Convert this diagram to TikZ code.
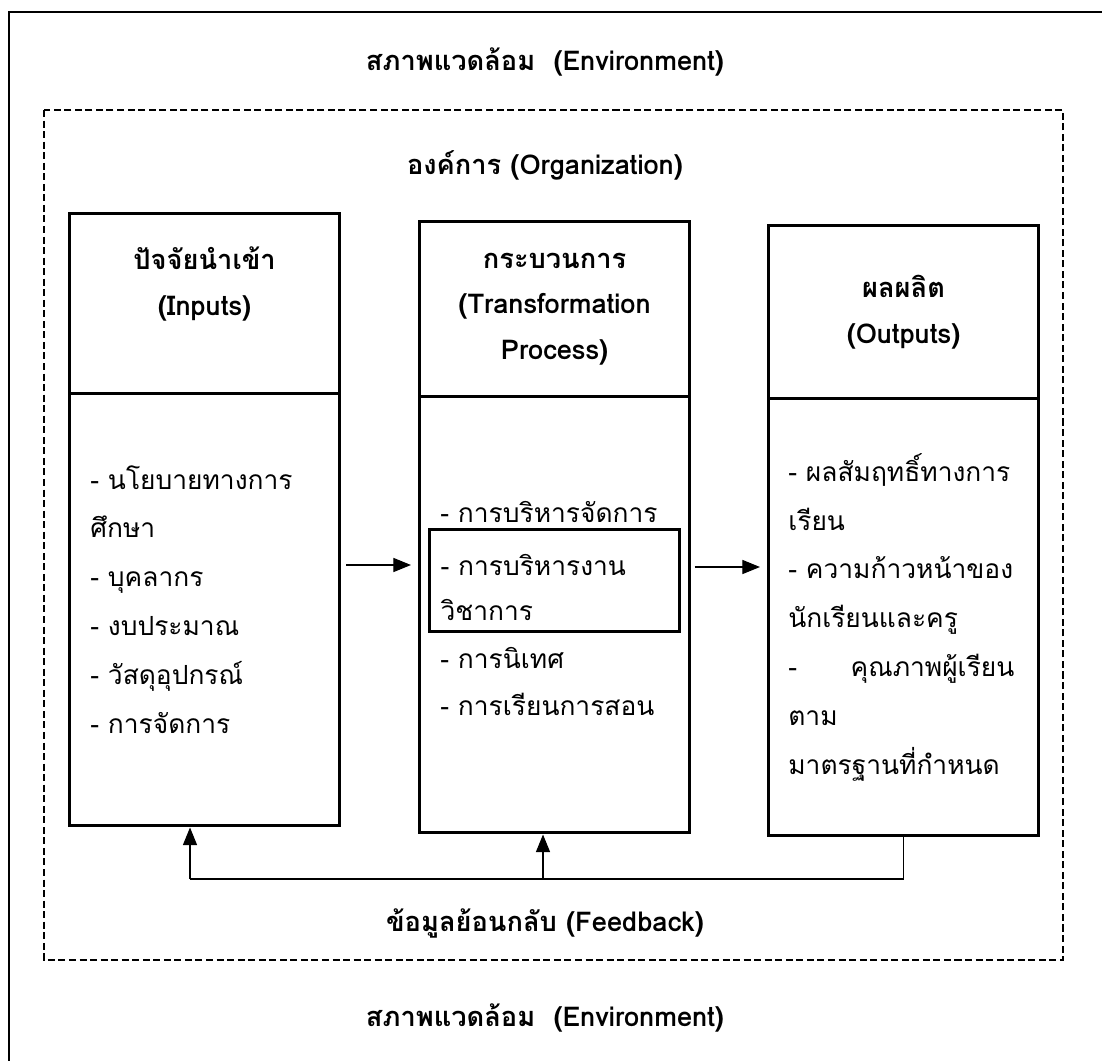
\documentclass[tikz,border=0pt]{standalone}
\usepackage{fontspec}
\newfontfamily\thaifont[Script=Thai]{Loma}
\usetikzlibrary{shapes.multipart,positioning,arrows.meta}
\newlength{\pxl}
\setlength{\pxl}{0.02cm}
\newcommand{\headpart}[2]{\parbox[c][#1\pxl][c]{270\pxl}{\centering #2}}

\begin{document}
\begin{tikzpicture}[
  x=0.02cm,
  y=-0.02cm,
  title/.style={font=\thaifont\bfseries\fontsize{15.5}{26}\selectfont},
  stagebox/.style={
    draw,
    line width=1.8pt,
    rectangle split,
    rectangle split parts=2,
    inner sep=0pt,
    anchor=north west,
    font=\thaifont\bfseries\fontsize{15.5}{26}\selectfont
    },
  bodytext/.style={
    inner sep=0pt,
    align=left,
    anchor=north west,
    font=\thaifont\fontsize{15}{27.8}\selectfont
    },
  flow/.style={line width=0.6pt, -{Triangle[length=10pt,width=8pt]}},
  fbline/.style={line width=0.6pt}
]
\clip (0,0) rectangle (1102,1061);

% frames
\draw[line width=1.6pt] (9,12) rectangle (1140,1100);
\draw[line width=1.3pt, dash pattern=on 4pt off 2pt] (44,110) rectangle (1063,960);

\node[title] (envtop) at (545,62) {สภาพแวดล้อม\ \ (Environment)};
\node[title] (org) at (545,165) {องค์การ (Organization)};

% stages
\node[stagebox] (inputs) at (68,212)
  {\headpart{177}{ปัจจัยนำเข้า\\(Inputs)\\\mbox{}}\nodepart{two}\rule{0pt}{429\pxl}};
\node[stagebox] (process) at (418,220)
  {\headpart{172}{กระบวนการ\\(Transformation\\Process)}\nodepart{two}\rule{0pt}{433\pxl}};
\node[stagebox] (outputs) at (767,224)
  {\headpart{170}{ผลผลิต\\(Outputs)}\nodepart{two}\rule{0pt}{434\pxl}};

\node[bodytext] (inlist) at (90,465)
  {- นโยบายทางการ\\ศึกษา\\- บุคลากร\\- งบประมาณ\\- วัสดุอุปกรณ์\\- การจัดการ};
\node[bodytext] (proc1) at (440,501) {- การบริหารจัดการ};
\node[bodytext, draw, line width=1.8pt, text width=228\pxl, inner xsep=11\pxl,
  minimum height=102\pxl, font=\thaifont\fontsize{15}{25.6}\selectfont] (acad) at (428,528)
  {\rule{0pt}{1.35em}- การบริหารงาน\\วิชาการ};
\node[bodytext, font=\thaifont\fontsize{15}{26.7}\selectfont] (proc2) at (440,647)
  {- การนิเทศ\\- การเรียนการสอน};
\node[bodytext] (outlist) at (788,453)
  {- ผลสัมฤทธิ์ทางการ\\เรียน\\- ความก้าวหน้าของ\\นักเรียนและครู\\
   \makebox[226\pxl]{-\hfill คุณภาพผู้เรียน}\\ตาม\\มาตรฐานที่กำหนด};

% flow
\coordinate (in2pr) at (0,565);
\coordinate (pr2out) at (0,567);
\draw[flow, shorten <=3pt, shorten >=4pt] (inputs.east |- in2pr) -- (process.west |- in2pr);
\draw[flow, shorten <=2pt, shorten >=4pt] (process.east |- pr2out) -- (outputs.west |- pr2out);

% feedback
\coordinate (fbin) at (190,879);
\coordinate (fbpr) at (543,879);
\draw[fbline] (outputs.south) |- (fbin);
\draw[flow] (fbin) -- (fbin |- inputs.south);
\draw[flow] (fbpr) -- (fbpr |- process.south);

\node[title] (fb) at (545,923) {ข้อมูลย้อนกลับ (Feedback)};
\node[title] (envbot) at (545,1018) {สภาพแวดล้อม\ \ (Environment)};
\end{tikzpicture}
\end{document}
